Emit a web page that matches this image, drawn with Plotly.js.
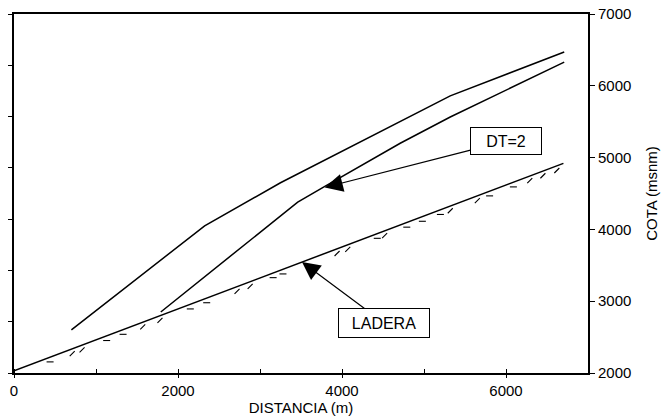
<!DOCTYPE html>
<html>
<head>
<meta charset="utf-8">
<script src="https://cdn.plot.ly/plotly-3.0.1.min.js"></script>
<style>html,body{margin:0;padding:0;background:#fff;}#chart{width:668px;height:418px;}</style>
</head>
<body>
<div id="chart"></div>
<script>
// Upper profile line
const upperX = [700, 2325, 3250, 4710, 5320, 6710];
const upperY = [2600, 4050, 4650, 5500, 5860, 6470];
// Lower profile line (DT=2)
const lowerX = [1790, 3460, 3775, 4710, 5320, 6710];
const lowerY = [2850, 4380, 4590, 5200, 5565, 6330];
// Hillside (LADERA)
const laderaX = [0, 6700];
const laderaY = [2030, 4920];
// Hatch positions along the hillside and their style
const hatchX = [440, 710, 830, 1130, 1330, 1570, 1780, 2150, 2350, 2720, 2880, 3160, 3280, 3940, 4070, 4430, 4520, 4790, 4980, 5200, 5320, 5650, 5800, 6090, 6290, 6450, 6620];
const hatchKind = ['d','s','s','d','d','s','s','d','d','s','s','d','d','s','s','d','s','d','d','d','s','s','d','d','s','s','s'];
// Tick labels
const xTickVals = [0, 2000, 4000, 6000];
const yTickVals = [2000, 3000, 4000, 5000, 6000, 7000];

function ladAt(x) {
  const t = (x - laderaX[0]) / (laderaX[1] - laderaX[0]);
  return laderaY[0] + t * (laderaY[1] - laderaY[0]);
}
const hatchY = hatchX.map(x => ladAt(x) - 65);
const hatchSym = hatchKind.map(k => k === 's' ? 'line-ne-open' : 'line-ew-open');

const lineStyle = {color: '#000', width: 1.5};
const traces = [
  {x: upperX, y: upperY, mode: 'lines', line: lineStyle, yaxis: 'y', hoverinfo: 'skip'},
  {x: lowerX, y: lowerY, mode: 'lines', line: lineStyle, yaxis: 'y', hoverinfo: 'skip'},
  {x: laderaX, y: laderaY, mode: 'lines', line: lineStyle, yaxis: 'y', hoverinfo: 'skip'},
  {x: hatchX, y: hatchY, mode: 'markers', yaxis: 'y',
   marker: {symbol: hatchSym, size: 5, color: '#000', line: {color: '#000', width: 1.1}}, hoverinfo: 'skip'},
  {x: [0], y: [0], mode: 'markers', yaxis: 'y2', marker: {opacity: 0}, hoverinfo: 'skip'}
];

const font = {family: 'Liberation Sans, Arial, Helvetica, sans-serif', size: 15, color: '#000'};
const boxFont = {family: 'Liberation Sans, Arial, Helvetica, sans-serif', size: 16, color: '#000'};
const layout = {
  width: 668, height: 418,
  margin: {l: 14, r: 80, t: 14, b: 45},
  paper_bgcolor: '#fff', plot_bgcolor: '#fff',
  showlegend: false,
  font: font,
  xaxis: {
    range: [0, 7000], tickvals: xTickVals, ticktext: xTickVals.map(String),
    ticks: 'outside', ticklen: 3, tickcolor: '#000', tickwidth: 1,
    minor: {dtick: 1000, tick0: 0, ticks: 'inside', ticklen: 4, tickcolor: '#000'},
    showline: true, linecolor: '#000', linewidth: 2, mirror: true,
    showgrid: false, zeroline: false,
    title: {text: 'DISTANCIA (m)', font: font, standoff: 2},
    tickfont: font
  },
  yaxis: {
    range: [2000, 7000], side: 'right', tickvals: yTickVals, ticktext: yTickVals.map(String),
    ticks: 'outside', ticklen: 5, tickcolor: '#000', tickwidth: 1,
    showline: true, linecolor: '#000', linewidth: 2,
    showgrid: false, zeroline: false,
    title: {text: 'COTA (msnm)', font: font, standoff: 16},
    tickfont: font
  },
  yaxis2: {
    range: [0, 7], overlaying: 'y', side: 'left', dtick: 1,
    ticks: 'outside', ticklen: 4, tickcolor: '#000', showticklabels: false,
    showline: true, linecolor: '#000', linewidth: 2,
    showgrid: false, zeroline: false
  },
  annotations: [
    {x: 3790, y: 4585, xref: 'x', yref: 'y', ax: 6000, ay: 5231, axref: 'x', ayref: 'y',
     text: 'DT=2', showarrow: true, arrowhead: 2, arrowsize: 3, arrowwidth: 1.2, arrowcolor: '#000',
     bordercolor: '#000', borderwidth: 1, borderpad: 2, bgcolor: '#fff', width: 66, height: 22,
     font: boxFont},
    {x: 3512, y: 3546, xref: 'x', yref: 'y', ax: 4512, ay: 2696, axref: 'x', ayref: 'y',
     text: 'LADERA', showarrow: true, arrowhead: 2, arrowsize: 3, arrowwidth: 1.2, arrowcolor: '#000',
     bordercolor: '#000', borderwidth: 1, borderpad: 2, bgcolor: '#fff', width: 86, height: 24,
     font: boxFont}
  ]
};
Plotly.newPlot('chart', traces, layout, {displayModeBar: false, staticPlot: true});
</script>
</body>
</html>
